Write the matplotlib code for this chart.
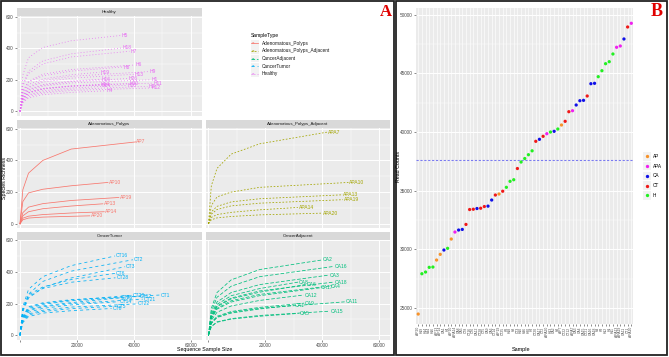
import matplotlib
matplotlib.use("Agg")
import matplotlib.pyplot as plt
from matplotlib.patches import Rectangle
from matplotlib.lines import Line2D

plt.rcParams['font.family'] = ['Liberation Sans', 'DejaVu Sans']
plt.rcParams['lines.scale_dashes'] = False

# %% data -------------------------------------------------------------
# samples in order of read counts (panel B)
sample_names = ['AP20', 'H19', 'H14', 'H24', 'H16', 'AP13', 'AP14', 'CA1', 'H4', 'AP10',
                'APA14', 'CA8', 'CA5', 'CT8', 'CT16', 'CT6', 'CA12', 'CT28', 'CT5', 'CA9',
                'CA6', 'CT14', 'AP19', 'CT25', 'H5', 'H18', 'H8', 'CT3', 'H10', 'H26',
                'H30', 'H7', 'CT20', 'CA17', 'CT2', 'APA20', 'H13', 'CA2', 'H6', 'AP7',
                'CT22', 'CT12', 'APA7', 'CA3', 'CA4', 'CA15', 'CT21', 'CA16', 'CA18', 'H2',
                'H9', 'H12', 'H1', 'H11', 'APA13', 'APA19', 'CA11', 'CT1', 'APA10']
read_counts = [24488, 27923, 28068, 28468, 28494, 29091, 29576, 29943, 30088, 30881,
               31477, 31648, 31700, 32125, 33395, 33420, 33481, 33506, 33651, 33685,
               34205, 34631, 34717, 34955, 35288, 35799, 35935, 36890, 37444, 37743,
               38066, 38399, 39209, 39379, 39635, 39856, 40001, 40061, 40257, 40598,
               40913, 41732, 41817, 42303, 42669, 42700, 43070, 44118, 44150, 44715,
               45227, 45823, 45994, 46650, 47221, 47332, 47929, 48952, 49267]
mean_reads = 37600

# observed species richness at 1000, 3000, 8000, 18000 reads and at full depth
depth_steps = [0, 1000, 3000, 8000, 18000]
richness = {
    'AP7': [215, 320, 400, 472, 517], 'AP10': [140, 195, 218, 240, 261],
    'AP19': [70, 105, 127, 147, 166], 'AP13': [50, 76, 95, 112, 126],
    'AP14': [35, 48, 58, 68, 76], 'AP20': [25, 36, 42, 47, 50],
    'APA7': [240, 350, 440, 505, 579], 'APA10': [115, 170, 200, 230, 261],
    'APA13': [75, 110, 138, 158, 183], 'APA19': [60, 90, 113, 130, 152],
    'APA14': [40, 58, 72, 88, 103], 'APA20': [25, 37, 46, 56, 67],
    'CA2': [170, 270, 350, 415, 476], 'CA16': [150, 240, 310, 370, 435],
    'CA3': [135, 210, 270, 320, 380], 'CA8': [125, 195, 250, 295, 336],
    'CA18': [120, 185, 235, 280, 336], 'CA6': [115, 180, 230, 272, 321],
    'CA4': [110, 170, 218, 258, 311], 'CA17': [105, 165, 210, 250, 300],
    'CA12': [95, 145, 185, 220, 254], 'CA11': [75, 115, 145, 170, 211],
    'CA9': [80, 120, 150, 176, 203], 'CA1': [75, 112, 140, 166, 190],
    'CA5': [55, 82, 102, 120, 138], 'CA15': [55, 85, 105, 125, 152],
    'CT16': [180, 290, 370, 440, 501], 'CT2': [160, 260, 340, 405, 477],
    'CT3': [150, 235, 300, 362, 433], 'CT6': [165, 255, 305, 352, 391],
    'CT28': [160, 245, 295, 335, 363], 'CT1': [120, 180, 205, 225, 254],
    'CT20': [115, 175, 200, 222, 252], 'CT12': [110, 168, 195, 218, 245],
    'CT21': [100, 155, 180, 200, 228], 'CT22': [90, 135, 158, 178, 198],
    'CT5': [85, 128, 150, 168, 184], 'CT8': [80, 118, 140, 155, 169],
    'CT14': [95, 145, 170, 192, 212], 'CT25': [105, 160, 185, 206, 236],
    'H5': [230, 340, 405, 448, 481], 'H18': [170, 255, 320, 365, 402],
    'H7': [160, 240, 300, 345, 381], 'H6': [130, 190, 235, 265, 294],
    'H8': [125, 185, 225, 255, 281], 'H19': [115, 170, 205, 232, 248],
    'H13': [100, 150, 185, 210, 235], 'H9': [105, 155, 195, 222, 252],
    'H16': [95, 140, 170, 192, 204], 'H26': [90, 135, 165, 188, 208],
    'H1': [85, 130, 160, 180, 200], 'H11': [75, 115, 140, 160, 179],
    'H14': [80, 120, 145, 160, 169], 'H24': [78, 118, 142, 158, 166],
    'H30': [78, 118, 145, 162, 177], 'H12': [60, 92, 115, 132, 148],
    'H2': [65, 100, 122, 140, 158], 'H10': [70, 105, 130, 148, 165],
    'H4': [55, 85, 105, 120, 130],
}

group_names = ['Adenomatous_Polyps', 'Adenomatous_Polyps_Adjacent', 'CancerAdjacent',
               'CancerTumor', 'Healthy']
group_codes = ['AP', 'APA', 'CA', 'CT', 'H']
line_colors = ['#F8766D', '#A3A500', '#00BF7D', '#00B0F6', '#E76BF3']
line_dashes = [None, (1.2, 1.2), (2.6, 1.3), (2.2, 2.2), (0.6, 1.6)]
dot_colors = {'AP': '#F7922A', 'APA': '#F020F0', 'CA': '#1010E8', 'CT': '#F01818', 'H': '#22F022'}


def code_of(name):
    return name.rstrip('0123456789')


W, H = 669, 357
fig = plt.figure(figsize=(W / 100, H / 100), dpi=100)


def px_box(x0, y0, x1, y1):
    return [x0 / W, 1 - y1 / H, (x1 - x0) / W, (y1 - y0) / H]


def gg_style(ax):
    ax.set_facecolor('#EBEBEB')
    for s in ax.spines.values():
        s.set_visible(False)
    ax.set_axisbelow(True)
    ax.grid(which='major', color='white', lw=0.7)
    ax.grid(which='minor', color='white', lw=0.35)
    ax.tick_params(which='major', length=1.5, width=0.4, color='#333333',
                   labelsize=3.4, labelcolor='#4D4D4D', pad=1)
    ax.tick_params(which='minor', length=0)


# %% panel A: rarefaction facets -------------------------------------
facets = {
    'Healthy': (17, 16, 202, 116),
    'Adenomatous_Polyps': (17, 128, 202, 228.5),
    'Adenomatous_Polyps_Adjacent': (205.5, 128, 390, 228.5),
    'CancerTumor': (17, 239.5, 202, 340),
    'CancerAdjacent': (205.5, 239.5, 390, 340),
}
for gi, g in enumerate(group_names):
    x0, y0, x1, y1 = facets[g]
    ax = fig.add_axes(px_box(x0, y0, x1, y1))
    gg_style(ax)
    ax.set_xlim(-1050, 63900)
    ax.set_ylim(-30, 605)
    ax.set_xticks([0, 20000, 40000, 60000])
    ax.set_xticks([10000, 30000, 50000], minor=True)
    ax.set_yticks([0, 200, 400, 600])
    ax.set_yticks([100, 300, 500], minor=True)
    left = x0 < 100
    bottom = y1 > 300
    ax.tick_params(labelleft=left, left=left, labelbottom=bottom, bottom=bottom)
    if bottom:
        ax.set_xticklabels(['', '20000', '40000', '60000'])

    code = group_codes[gi]
    for name, reads in zip(sample_names, read_counts):
        if code_of(name) != code:
            continue
        xs = depth_steps + [reads]
        ys = [0] + richness[name]
        ln, = ax.plot(xs, ys, color=line_colors[gi], lw=0.55)
        if line_dashes[gi]:
            ln.set_dashes(line_dashes[gi])
        ax.text(reads + 300, ys[-1], name, color=line_colors[gi], fontsize=3.6,
                ha='left', va='center')

    sax = fig.add_axes(px_box(x0, y0 - 7.8, x1, y0))
    sax.set_facecolor('#D9D9D9')
    sax.set_xticks([])
    sax.set_yticks([])
    for s in sax.spines.values():
        s.set_visible(False)
    sax.text(0.5, 0.5, g, fontsize=3.2, color='#1A1A1A', ha='center', va='center',
             transform=sax.transAxes)

fig.text(5 / W, 1 - 178 / H, 'Species Richness', rotation=90, fontsize=3.8,
         ha='center', va='center')
fig.text(205 / W, 1 - 350 / H, 'Sequence Sample Size', fontsize=3.8,
         ha='center', va='center')

# legend of panel A
fig.text(251 / W, 1 - 35 / H, 'SampleType', fontsize=3.6, ha='left', va='center')
for i, g in enumerate(group_names):
    yc = 43.3 + i * 7.6
    fig.add_artist(Rectangle((250.5 / W, 1 - (yc + 3.5) / H), 8 / W, 7 / H,
                             transform=fig.transFigure, fc='#F2F2F2', ec='none'))
    ln = Line2D([251 / W, 258 / W], [1 - yc / H] * 2, transform=fig.transFigure,
                color=line_colors[i], lw=0.55)
    if line_dashes[i]:
        ln.set_dashes(line_dashes[i])
    fig.add_artist(ln)
    fig.text(253 / W, 1 - yc / H, 'a', color=line_colors[i], fontsize=3.2,
             ha='center', va='center')
    fig.text(262 / W, 1 - yc / H, g.replace('_', ' ') if False else g, fontsize=3.4,
             ha='left', va='center', color='#1A1A1A')

# %% panel B: read counts ----------------------------------------------
bx = fig.add_axes(px_box(416, 8, 633.5, 324))
gg_style(bx)
positions = list(range(1, len(sample_names) + 1))
bx.scatter(positions, read_counts, s=5.5, lw=0,
           c=[dot_colors[code_of(n)] for n in sample_names], zorder=3)
bx.axhline(mean_reads, color='#7B7BF0', lw=0.8, dashes=(1.6, 1.2))
bx.set_xlim(0.4, len(sample_names) + 0.6)
bx.set_ylim(23640, 50570)
bx.set_yticks([25000, 30000, 35000, 40000, 45000, 50000])
bx.set_yticks([27500, 32500, 37500, 42500, 47500], minor=True)
bx.set_xticks(positions)
bx.set_xticklabels(sample_names, rotation=90, fontsize=2.4, va='top')
bx.tick_params(axis='x', length=1.2, pad=0.8)
bx.grid(which='major', axis='x', color='white', lw=0.45)
fig.text(399 / W, 1 - 167 / H, 'Read Counts', rotation=90, fontsize=3.8,
         ha='center', va='center')
fig.text(521 / W, 1 - 349 / H, 'Sample', fontsize=4, ha='center', va='center')

for i, c in enumerate(group_codes):
    yc = 156.4 + i * 9.7
    fig.add_artist(Rectangle((642.5 / W, 1 - (yc + 4.3) / H), 8.6 / W, 8.6 / H,
                             transform=fig.transFigure, fc='#F2F2F2', ec='none'))
    fig.add_artist(Line2D([646.8 / W], [1 - yc / H], transform=fig.transFigure,
                          marker='o', ms=2.4, mew=0, color=dot_colors[c]))
    fig.text(653 / W, 1 - yc / H, c, fontsize=3.4, ha='left', va='center')

# %% frames and panel letters ----------------------------------------
fig.add_artist(Rectangle((1 / W, 2 / H), 393 / W, 354 / H, transform=fig.transFigure,
                         fill=False, ec='#222222', lw=1.3))
fig.add_artist(Rectangle((395.5 / W, 2 / H), 271.5 / W, 354 / H, transform=fig.transFigure,
                         fill=False, ec='#222222', lw=1.3))
fig.text(386 / W, 1 - 11.5 / H, 'A', family='Liberation Serif', weight='bold',
         color='#E00000', fontsize=12, ha='center', va='center')
fig.text(657 / W, 1 - 11 / H, 'B', family='Liberation Serif', weight='bold',
         color='#E00000', fontsize=13, ha='center', va='center')

fig.savefig('out.png', dpi=100)
